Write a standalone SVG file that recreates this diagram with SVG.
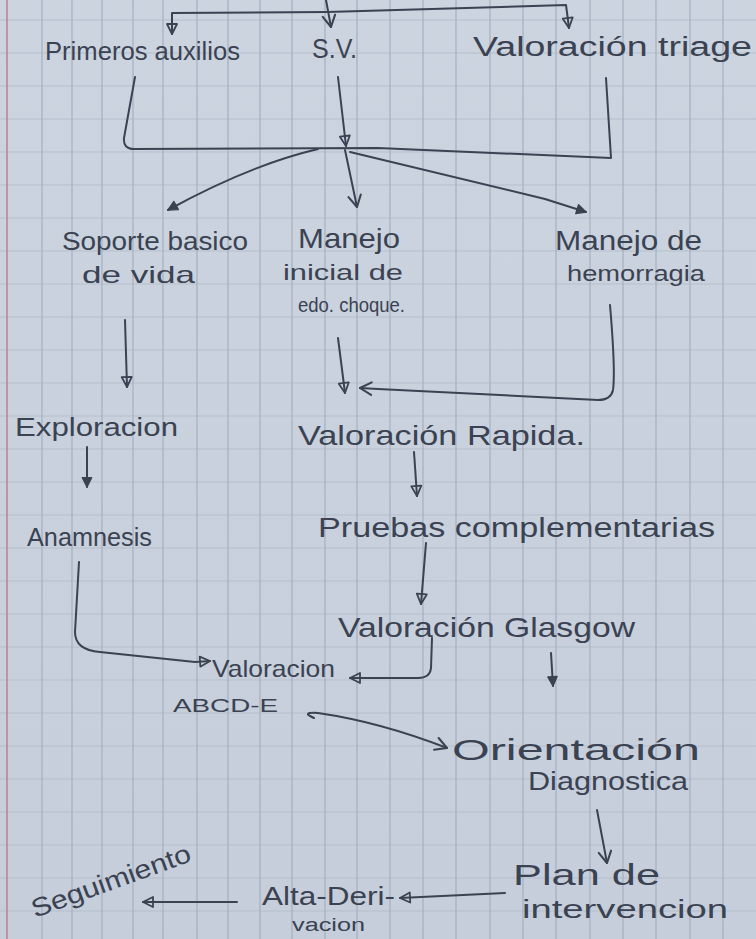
<svg xmlns="http://www.w3.org/2000/svg" width="756" height="939" viewBox="0 0 756 939">
<defs>
<linearGradient id="paper" x1="0" y1="0" x2="0" y2="1">
<stop offset="0" stop-color="#cbd4df"/>
<stop offset="1" stop-color="#c5ceda"/>
</linearGradient>
<marker id="tri" viewBox="0 0 14 14" refX="12" refY="7" markerWidth="14" markerHeight="14" markerUnits="userSpaceOnUse" orient="auto">
<path d="M2,2 L12,7 L2,12 Z" fill="none" stroke="#3b4252" stroke-width="1.8" stroke-linejoin="round"/>
</marker>
<marker id="fill" viewBox="0 0 14 14" refX="12" refY="7" markerWidth="13" markerHeight="13" markerUnits="userSpaceOnUse" orient="auto">
<path d="M2,2 L12,7 L2,12 Z" fill="#3b4252" stroke="#3b4252" stroke-width="1.5" stroke-linejoin="round"/>
</marker>
<marker id="vee" viewBox="0 0 14 14" refX="12" refY="7" markerWidth="16" markerHeight="16" markerUnits="userSpaceOnUse" orient="auto">
<path d="M2,1.5 L12,7 L2,12.5" fill="none" stroke="#3b4252" stroke-width="1.8" stroke-linecap="round" stroke-linejoin="round"/>
</marker>
</defs>
<style>
.t{font-family:"Liberation Sans","DejaVu Sans",sans-serif;fill:#3b4252;font-weight:normal}
.c{fill:none;stroke:#3b4252;stroke-width:2;stroke-linecap:round;stroke-linejoin:round}
.gv{stroke:#a5b0c0;stroke-width:1.2}
.gh{stroke:#b5bfcc;stroke-width:1}
</style>
<rect x="0" y="0" width="756" height="939" fill="url(#paper)"/>
<g id="grid">
<path class="gh" d="M0,20H756M0,53H756M0,86H756M0,119H756M0,152H756M0,185H756M0,218H756M0,251H756M0,284H756M0,317H756M0,350H756M0,383H756M0,416H756M0,449H756M0,482H756M0,515H756M0,548H756M0,581H756M0,614H756M0,647H756M0,680H756M0,713H756M0,746H756M0,779H756M0,812H756M0,845H756M0,878H756M0,911H756"/>
<path class="gv" d="M42,0V939M72,0V939M102,0V939M133,0V939M163,0V939M197,0V939M228,0V939M260,0V939M292,0V939M325,0V939M357,0V939M390,0V939M423,0V939M456,0V939M490,0V939M523,0V939M556,0V939M590,0V939M623,0V939M656,0V939M690,0V939M723,0V939"/>
<path d="M7,0V939" stroke="#c47d8c" stroke-width="1.5"/>
</g>
<g id="connectors">
<path class="c" d="M326,0 L331,27" marker-end="url(#vee)"/>
<path class="c" d="M327,12 L172,13 L172,34" marker-end="url(#tri)"/>
<path class="c" d="M327,12 L566,5 L569,28" marker-end="url(#tri)"/>
<path class="c" d="M135,77 L124,138 Q123,149 134,149 L378,148 L611,158 L606,78"/>
<path class="c" d="M338,77 L346,146" marker-end="url(#tri)"/>
<path class="c" d="M345,150 L357,207" marker-end="url(#vee)"/>
<path class="c" d="M318,149 Q250,165 168,210" marker-end="url(#fill)"/>
<path class="c" d="M350,152 L545,199 L586,212" marker-end="url(#fill)"/>
<path class="c" d="M125,320 L127,387" marker-end="url(#tri)"/>
<path class="c" d="M338,338 L345,393" marker-end="url(#tri)"/>
<path class="c" d="M610,305 C613,340 615,375 613,390 Q611,400 598,400 L378,389 L360,388" marker-end="url(#vee)"/>
<path class="c" d="M87,447 L87,487" marker-end="url(#fill)"/>
<path class="c" d="M414,452 L417,496" marker-end="url(#tri)"/>
<path class="c" d="M426,543 L421,604" marker-end="url(#tri)"/>
<path class="c" d="M79,562 L75,632 Q75,650 100,652 L195,662 L210,661" marker-end="url(#tri)"/>
<path class="c" d="M432,638 L431,668 Q430,678 418,678 L350,678" marker-end="url(#tri)"/>
<path class="c" d="M551,653 L553,686" marker-end="url(#fill)"/>
<path class="c" d="M314,718 Q300,712 318,713 Q380,722 447,748" marker-end="url(#vee)"/>
<path class="c" d="M597,810 L607,863" marker-end="url(#vee)"/>
<path class="c" d="M505,893 L400,898" marker-end="url(#tri)"/>
<path class="c" d="M237,902 L143,902" marker-end="url(#tri)"/>
</g>
<g id="n-primeros"><text class="t" x="45" y="60" font-size="26" textLength="195" lengthAdjust="spacingAndGlyphs">Primeros auxilios</text></g>
<g id="n-sv"><text class="t" x="312" y="58" font-size="28" textLength="45" lengthAdjust="spacingAndGlyphs">S.V.</text></g>
<g id="n-triage"><text class="t" x="473" y="56" font-size="27" textLength="279" lengthAdjust="spacingAndGlyphs">Valoración triage</text></g>
<g id="n-soporte">
<text class="t" x="62" y="250" font-size="26" textLength="186" lengthAdjust="spacingAndGlyphs">Soporte basico</text>
<text class="t" x="82" y="283" font-size="24" textLength="113" lengthAdjust="spacingAndGlyphs">de vida</text>
</g>
<g id="n-manejo-choque">
<text class="t" x="298" y="248" font-size="28" textLength="102" lengthAdjust="spacingAndGlyphs">Manejo</text>
<text class="t" x="283" y="280" font-size="22" textLength="120" lengthAdjust="spacingAndGlyphs">inicial de</text>
<text class="t" x="298" y="312" font-size="20" textLength="107" lengthAdjust="spacingAndGlyphs">edo. choque.</text>
</g>
<g id="n-hemorragia">
<text class="t" x="555" y="250" font-size="27" textLength="147" lengthAdjust="spacingAndGlyphs">Manejo de</text>
<text class="t" x="567" y="281" font-size="22" textLength="138" lengthAdjust="spacingAndGlyphs">hemorragia</text>
</g>
<g id="n-exploracion"><text class="t" x="15" y="436" font-size="26" textLength="163" lengthAdjust="spacingAndGlyphs">Exploracion</text></g>
<g id="n-rapida"><text class="t" x="298" y="445" font-size="28" textLength="287" lengthAdjust="spacingAndGlyphs">Valoración Rapida.</text></g>
<g id="n-anamnesis"><text class="t" x="27" y="546" font-size="25" textLength="125" lengthAdjust="spacingAndGlyphs">Anamnesis</text></g>
<g id="n-pruebas"><text class="t" x="318" y="537" font-size="27" textLength="397" lengthAdjust="spacingAndGlyphs">Pruebas complementarias</text></g>
<g id="n-glasgow"><text class="t" x="338" y="637" font-size="28" textLength="297" lengthAdjust="spacingAndGlyphs">Valoración Glasgow</text></g>
<g id="n-abcde">
<text class="t" x="212" y="677" font-size="24" textLength="123" lengthAdjust="spacingAndGlyphs">Valoracion</text>
<text class="t" x="173" y="712" font-size="19" textLength="105" lengthAdjust="spacingAndGlyphs">ABCD-E</text>
</g>
<g id="n-orientacion">
<text class="t" x="452" y="760" font-size="30" textLength="248" lengthAdjust="spacingAndGlyphs">Orientación</text>
<text class="t" x="528" y="790" font-size="26" textLength="160" lengthAdjust="spacingAndGlyphs">Diagnostica</text>
</g>
<g id="n-plan">
<text class="t" x="513" y="885" font-size="30" textLength="147" lengthAdjust="spacingAndGlyphs">Plan de</text>
<text class="t" x="522" y="918" font-size="25" textLength="206" lengthAdjust="spacingAndGlyphs">intervencion</text>
</g>
<g id="n-alta">
<text class="t" x="262" y="905" font-size="26" textLength="133" lengthAdjust="spacingAndGlyphs">Alta-Deri-</text>
<text class="t" x="292" y="931" font-size="18" textLength="73" lengthAdjust="spacingAndGlyphs">vacion</text>
</g>
<g id="n-seguimiento"><text class="t" x="0" y="0" font-size="26" transform="translate(35,918) rotate(-20)" textLength="168" lengthAdjust="spacingAndGlyphs">Seguimiento</text></g>
</svg>
